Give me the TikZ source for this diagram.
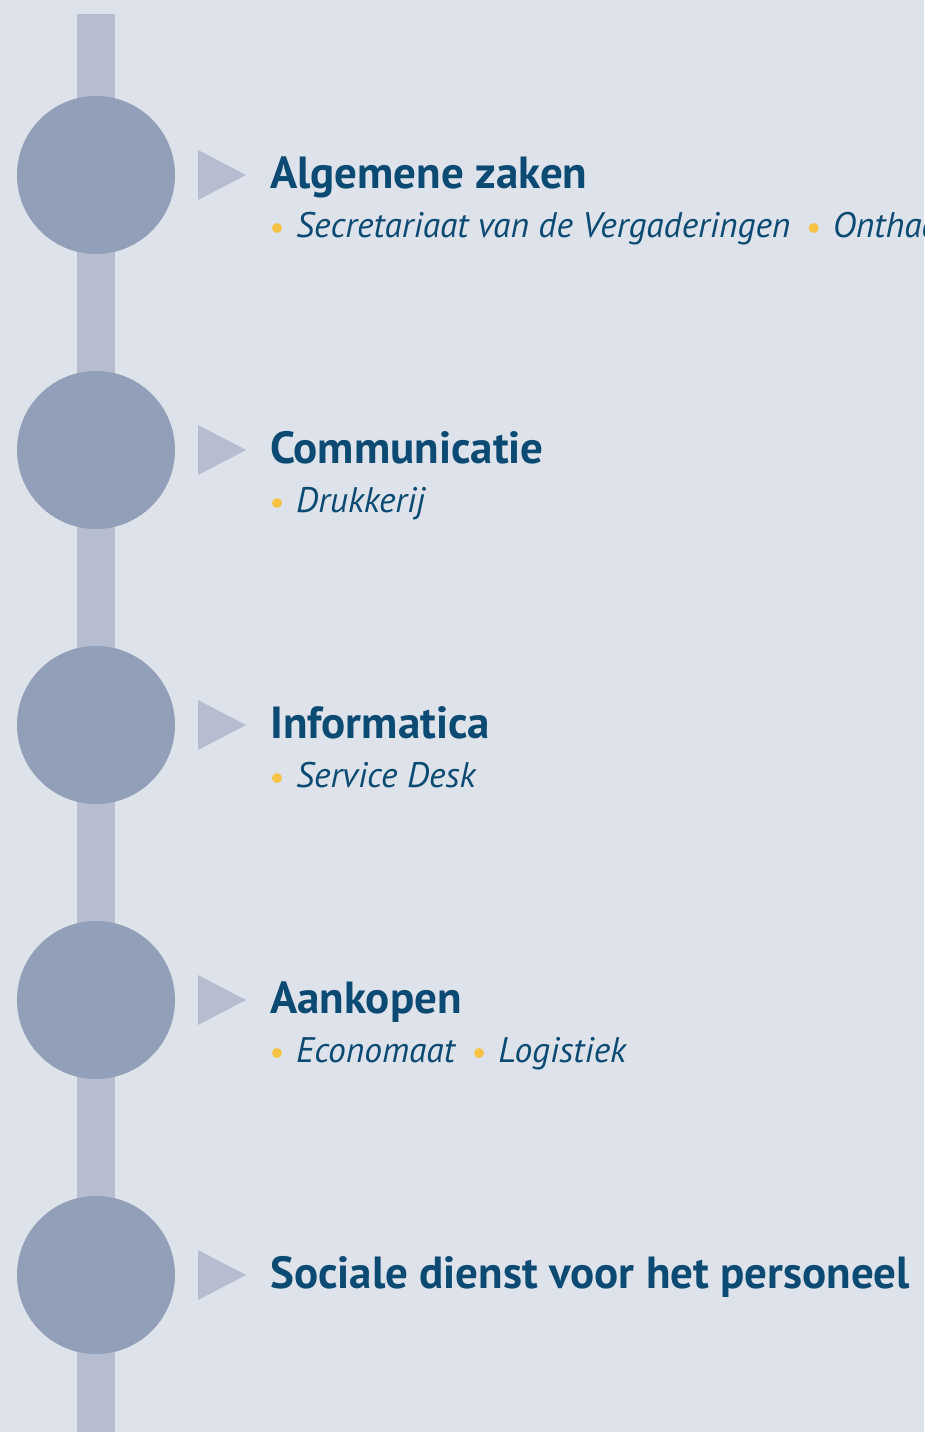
\documentclass[tikz,border=0pt]{standalone}
\usepackage{fontspec}
\setmainfont{PT Sans}
\usepackage{tikz}
\usetikzlibrary{positioning,calc}

\definecolor{pagebg}{HTML}{DEE2EA}
\definecolor{barcol}{HTML}{B6BDD1}
\definecolor{dotcol}{HTML}{929FB8}
\definecolor{titlecol}{HTML}{0B4A72}
\definecolor{bulletcol}{HTML}{F6C344}

\tikzset{
  station/.style={circle, fill=dotcol, minimum size=158pt, inner sep=0pt},
  pointer/.style={fill=barcol},
  unittitle/.style={anchor=base west, inner sep=0pt, text=titlecol,
    font=\fontsize{45}{50}\selectfont\bfseries},
  unitsub/.style={anchor=base west, inner sep=0pt, text=titlecol,
    font=\fontsize{35.5}{40}\selectfont\itshape},
  bullet/.style={circle, fill=bulletcol, minimum size=10pt, inner sep=0pt}
}

\begin{document}
\begin{tikzpicture}[x=1pt,y=1pt]
        \newcommand{\unitgap}{275}
        \newcommand{\barwidth}{38pt}
        \fill[pagebg] (0,0) rectangle (924,-1432);
        \clip (0,0) rectangle (924,-1432);
        % the timeline bar
        \coordinate (bartop) at (96,-14);
        \coordinate (barbot) at (96,-1432);
        \draw[barcol, line width=\barwidth] (bartop) -- (barbot);
        % the stations
        \node[station] (alg) at (96,-175) {};
        \node[station] (com) at (96,-175-\unitgap) {};
        \node[station] (inf) at (96,-175-2*\unitgap) {};
        \node[station] (aan) at (96,-175-3*\unitgap) {};
        \node[station] (soc) at (96,-175-4*\unitgap) {};
        % pointers
        \foreach \s in {alg,com,inf,aan,soc}
          \fill[pointer] ($(\s.center)+(102,25)$) -- ++(48,-25) -- ++(-48,-25) -- cycle;
        % titles
        \node[unittitle] (algt) at ($(alg.center)+(174,-13)$) {Algemene zaken};
        \node[unittitle] (comt) at ($(com.center)+(174,-13)$) {Communicatie};
        \node[unittitle] (inft) at ($(inf.center)+(174,-13)$) {Informatica};
        \node[unittitle] (aant) at ($(aan.center)+(174,-13)$) {Aankopen};
        \node[unittitle] (soct) at ($(soc.center)+(174,-13)$) {Sociale dienst voor het personeel};
        % sub units
        \node[bullet] (algb1) at ($(alg.center)+(181,-53)$) {};
        \node[unitsub] (algs1) at ($(alg.center)+(200,-62)$) {Secretariaat van de Vergaderingen};
        \node[bullet] (algb2) at ($(algs1.base east)+(23,9)$) {};
        \node[unitsub] (algs2) at ($(algb2.center)+(19,-9)$) {Onthaal};
        \node[bullet] (comb1) at ($(com.center)+(181,-53)$) {};
        \node[unitsub] (coms1) at ($(com.center)+(200,-62)$) {Drukkerij};
        \node[bullet] (infb1) at ($(inf.center)+(181,-53)$) {};
        \node[unitsub] (infs1) at ($(inf.center)+(200,-62)$) {Service Desk};
        \node[bullet] (aanb1) at ($(aan.center)+(181,-53)$) {};
        \node[unitsub] (aans1) at ($(aan.center)+(200,-62)$) {Economaat};
        \node[bullet] (aanb2) at ($(aans1.base east)+(24,9)$) {};
        \node[unitsub] (aans2) at ($(aanb2.center)+(19,-9)$) {Logistiek};
\end{tikzpicture}
\end{document}
